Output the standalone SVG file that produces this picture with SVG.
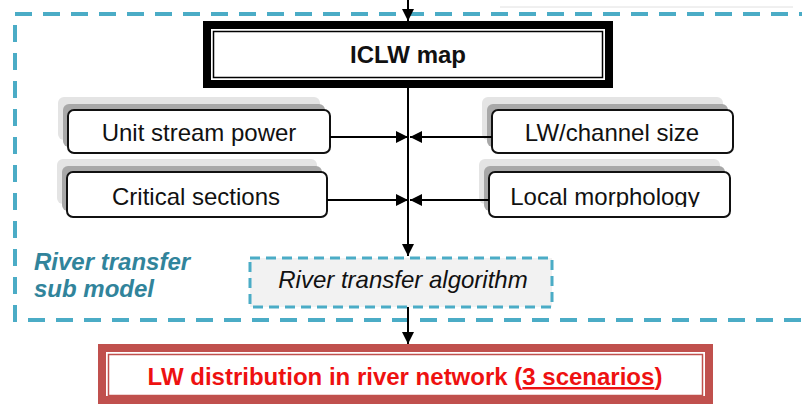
<svg xmlns="http://www.w3.org/2000/svg" width="802" height="405" viewBox="0 0 802 405">
<style>
.lbl{font-family:"Liberation Sans",Arial,sans-serif;font-size:24px;fill:#111;text-anchor:middle}
.box{fill:#fff;stroke:#111;stroke-width:2}
.sh1{fill:#e4e4e4}
.sh2{fill:#a8a8a8}
.con{stroke:#000;stroke-width:2;fill:none}
</style>
<defs>
<marker id="ah" viewBox="0 0 10 10" refX="10" refY="5" markerWidth="6.5" markerHeight="6" markerUnits="strokeWidth" orient="auto">
<path d="M0,0 L10,5 L0,10 z" fill="#000"/>
</marker>
<clipPath id="clipLM"><rect x="480" y="160" width="260" height="47"/></clipPath>
</defs>
<rect width="802" height="405" fill="#fff"/>
<line x1="500" y1="7" x2="793" y2="7" stroke="#e0e0e0" stroke-width="1"/>

<g id="submodel">
<rect x="15" y="14" width="800" height="306" fill="none" stroke="#4bacc6" stroke-width="4" stroke-dasharray="17 11"/>
<text x="34" y="270" font-family="Liberation Sans,Arial,sans-serif" font-size="24" font-weight="bold" font-style="italic" fill="#31849b">River transfer</text>
<text x="34" y="297" font-family="Liberation Sans,Arial,sans-serif" font-size="24" font-weight="bold" font-style="italic" fill="#31849b">sub model</text>
</g>

<g id="iclw">
<rect x="207" y="25" width="402" height="59" fill="#fff" stroke="#000" stroke-width="8"/>
<rect x="213.5" y="31.5" width="389" height="46" fill="#fff" stroke="#000" stroke-width="1.5"/>
<text class="lbl" x="408" y="63" font-weight="bold">ICLW map</text>
</g>

<g id="usp">
<rect class="sh1" x="58" y="97" width="262" height="43" rx="6"/>
<rect class="sh2" x="63" y="104" width="262" height="43" rx="6"/>
<rect class="box" x="68" y="110" width="262" height="43" rx="6"/>
<text class="lbl" x="199" y="141">Unit stream power</text>
</g>

<g id="crit">
<rect class="sh1" x="57" y="159" width="260" height="45" rx="6"/>
<rect class="sh2" x="62" y="166" width="260" height="45" rx="6"/>
<rect class="box" x="67" y="172" width="260" height="45" rx="6"/>
<text class="lbl" x="196" y="205">Critical sections</text>
</g>

<g id="lwch">
<rect class="sh1" x="482" y="97" width="241" height="43" rx="6"/>
<rect class="sh2" x="487" y="104" width="241" height="43" rx="6"/>
<rect class="box" x="492" y="110" width="241" height="43" rx="6"/>
<text class="lbl" x="612" y="141">LW/channel size</text>
</g>

<g id="locm">
<rect class="sh1" x="479" y="159" width="241" height="45" rx="6"/>
<rect class="sh2" x="484" y="166" width="241" height="45" rx="6"/>
<rect class="box" x="489" y="172" width="241" height="45" rx="6"/>
<text class="lbl" x="605" y="205" clip-path="url(#clipLM)">Local morphology</text>
</g>

<g id="algo">
<rect x="250" y="258" width="302" height="49" fill="#f2f2f2" stroke="#4bacc6" stroke-width="3" stroke-dasharray="10 6"/>
<text class="lbl" x="403" y="288" font-style="italic">River transfer algorithm</text>
</g>

<g id="lwdist">
<rect x="102" y="348" width="607" height="52" fill="#fff" stroke="#c0504d" stroke-width="8"/>
<rect x="108.5" y="354.5" width="594" height="41" fill="#fff" stroke="#c0504d" stroke-width="1.5"/>
<text class="lbl" x="405" y="385" font-weight="bold" style="fill:#ee1111">LW distribution in river network (<tspan text-decoration="underline">3 scenarios</tspan>)</text>
</g>

<g id="connectors">
<line class="con" x1="408" y1="0" x2="408" y2="21" marker-end="url(#ah)"/>
<line class="con" x1="408" y1="88" x2="408" y2="256" marker-end="url(#ah)"/>
<line class="con" x1="330" y1="137" x2="408" y2="137" marker-end="url(#ah)"/>
<line class="con" x1="492" y1="137" x2="410" y2="137" marker-end="url(#ah)"/>
<line class="con" x1="327" y1="200" x2="408" y2="200" marker-end="url(#ah)"/>
<line class="con" x1="489" y1="200" x2="410" y2="200" marker-end="url(#ah)"/>
<line class="con" x1="408" y1="307" x2="408" y2="344" marker-end="url(#ah)"/>
</g>
</svg>
